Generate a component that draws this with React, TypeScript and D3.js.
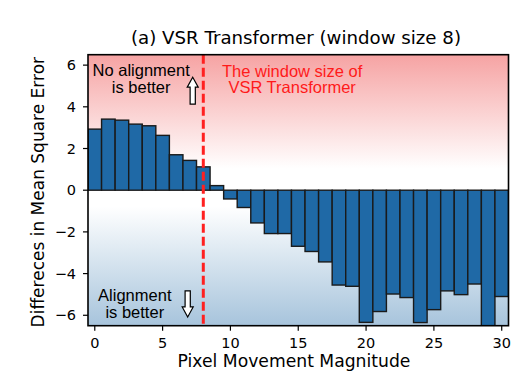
import React from "react";
import * as d3 from "d3";

const magnitudes = [0, 1, 2, 3, 4, 5, 6, 7, 8, 9, 10, 11, 12, 13, 14, 15, 16, 17, 18, 19, 20, 21, 22, 23, 24, 25, 26, 27, 28, 29, 30];
const mseDiff = [2.93, 3.41, 3.36, 3.17, 3.09, 2.63, 1.70, 1.43, 1.12, 0.22, -0.42, -0.83, -1.57, -2.08, -2.08, -2.69, -2.94, -3.44, -4.55, -4.61, -6.34, -5.82, -4.98, -5.15, -6.35, -5.73, -4.83, -5.01, -4.50, -6.62, -5.10];
const xTicks = [0, 5, 10, 15, 20, 25, 30];
const yTicks = [-6, -4, -2, 0, 2, 4, 6];
const windowSize = 8;
const titleText = "(a) VSR Transformer (window size 8)";
const xLabel = "Pixel Movement Magnitude";
const yLabel = "Differeces in Mean Square Error";

const W = 520, H = 384;
const X0 = 88, X1 = 508.5, Y0 = 54.7, Y1 = 325.7;

export default function App() {
  const x = d3.scaleLinear().domain([-0.5, 30.5]).range([X0, X1]);
  const y = d3.scaleLinear().domain([-6.5, 6.5]).range([Y1, Y0]);
  const fmt = d3.format("d");
  const bw = x(1) - x(0);

  const upArrow = (cx: number, tip: number, base: number) => {
    const xt = x(cx), yt = y(tip), yb = y(base);
    const hw = 5.5, sw = 2.6, hh = 10;
    return `M${xt},${yt} L${xt + hw},${yt + hh} L${xt + sw},${yt + hh} L${xt + sw},${yb} L${xt - sw},${yb} L${xt - sw},${yt + hh} L${xt - hw},${yt + hh} Z`;
  };
  const downArrow = (cx: number, top: number, tip: number) => {
    const xt = x(cx), yt = y(tip), ytop = y(top);
    const hw = 5.5, sw = 2.6, hh = 10;
    return `M${xt},${yt} L${xt + hw},${yt - hh} L${xt + sw},${yt - hh} L${xt + sw},${ytop} L${xt - sw},${ytop} L${xt - sw},${yt - hh} L${xt - hw},${yt - hh} Z`;
  };

  const annFont = "'Liberation Sans', Arial, sans-serif";
  const axFont = "'DejaVu Sans', sans-serif";

  return (
    <svg width={W} height={H} style={{ position: "absolute", left: 0, top: 0, background: "#fff" }}>
      <defs>
        <linearGradient id="bg" x1="0" y1="0" x2="0" y2="1">
          <stop offset="0%" stopColor="#f6a3a3" />
          <stop offset="42%" stopColor="#ffffff" />
          <stop offset="56%" stopColor="#ffffff" />
          <stop offset="100%" stopColor="#a7c4dc" />
        </linearGradient>
        <clipPath id="plot">
          <rect x={X0} y={Y0} width={X1 - X0} height={Y1 - Y0} />
        </clipPath>
      </defs>
      <rect x={X0} y={Y0} width={X1 - X0} height={Y1 - Y0} fill="url(#bg)" />
      <g clipPath="url(#plot)">
        {mseDiff.map((v, i) => (
          <rect
            key={i}
            x={x(magnitudes[i] - 0.5)}
            width={bw}
            y={Math.min(y(v), y(0))}
            height={Math.abs(y(v) - y(0))}
            fill="#1f69a6"
            stroke="#1a1a1a"
            strokeWidth={1.4}
          />
        ))}
        <line x1={x(windowSize)} x2={x(windowSize)} y1={Y0} y2={Y1} stroke="#ff2020" strokeWidth={3} strokeDasharray="9,4" />
      </g>
      <g fontFamily={annFont} fontSize={16.5} textAnchor="middle">
        <text x={x(3.42)} y={y(5.47)} fill="#000">No alignment</text>
        <text x={x(3.42)} y={y(4.67)} fill="#000">is better</text>
        <text x={x(14.55)} y={y(5.44)} fill="#ff1a1a">The window size of</text>
        <text x={x(14.55)} y={y(4.64)} fill="#ff1a1a">VSR Transformer</text>
        <text x={x(2.95)} y={y(-5.3)} fill="#000">Alignment</text>
        <text x={x(2.95)} y={y(-6.15)} fill="#000">is better</text>
      </g>
      <path d={upArrow(7.22, 5.42, 4.13)} fill="#fff" stroke="#000" strokeWidth={1.2} />
      <path d={downArrow(6.85, -4.83, -6.08)} fill="#fff" stroke="#000" strokeWidth={1.2} />
      <rect x={X0} y={Y0} width={X1 - X0} height={Y1 - Y0} fill="none" stroke="#000" strokeWidth={1.6} />
      <g fontFamily={axFont} fontSize={14.5} fill="#000">
        {xTicks.map((t) => (
          <g key={t}>
            <line x1={x(t)} x2={x(t)} y1={Y1} y2={Y1 + 5} stroke="#000" strokeWidth={1.2} />
            <text x={x(t)} y={Y1 + 22} textAnchor="middle">{fmt(t)}</text>
          </g>
        ))}
        {yTicks.map((t) => (
          <g key={t}>
            <line x1={X0 - 5} x2={X0} y1={y(t)} y2={y(t)} stroke="#000" strokeWidth={1.2} />
            <text x={X0 - 12} y={y(t) + 5} textAnchor="end">{fmt(t)}</text>
          </g>
        ))}
      </g>
      <text x={296} y={44} fontFamily={axFont} fontSize={18.2} textAnchor="middle">{titleText}</text>
      <text x={294} y={367} fontFamily={axFont} fontSize={17.2} textAnchor="middle">{xLabel}</text>
      <text transform={`translate(44,${(Y0 + Y1) / 2 + 2}) rotate(-90)`} fontFamily={axFont} fontSize={17} textAnchor="middle">{yLabel}</text>
    </svg>
  );
}
